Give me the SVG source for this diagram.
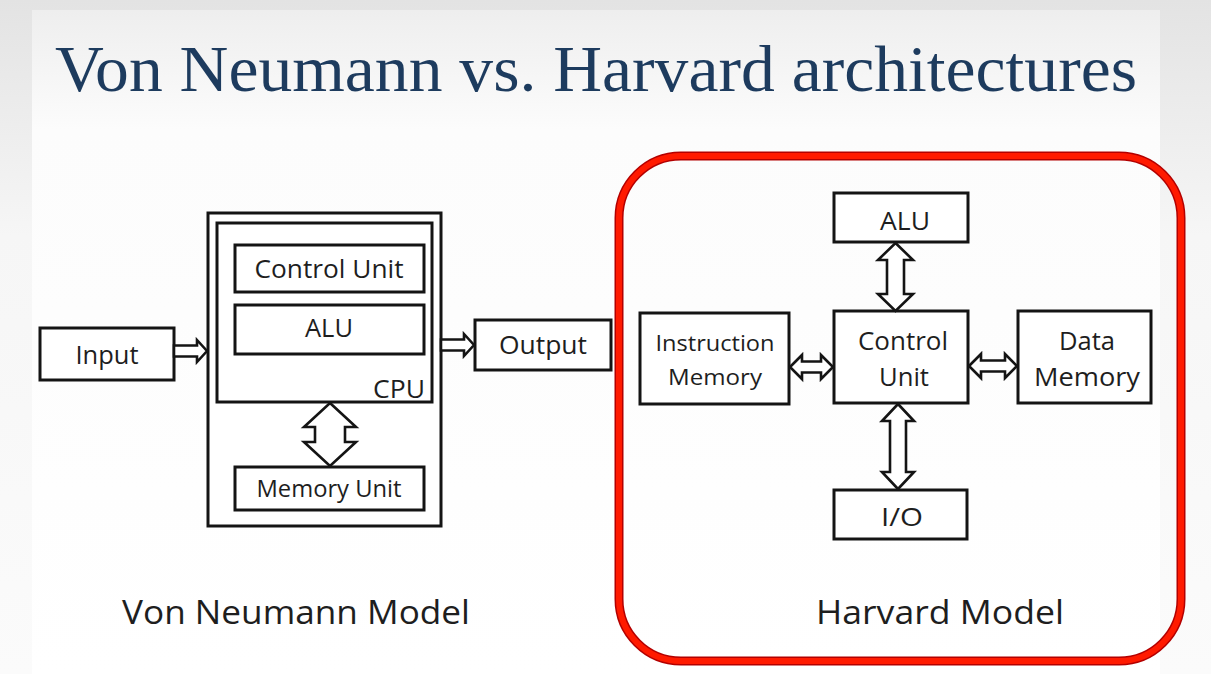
<svg xmlns="http://www.w3.org/2000/svg" width="1211" height="674" viewBox="0 0 1211 674">
  <defs>
    <linearGradient id="bgGrad" x1="0" y1="0" x2="0" y2="1">
      <stop offset="0" stop-color="#e3e3e3"/>
      <stop offset="0.35" stop-color="#f6f6f6"/>
      <stop offset="1" stop-color="#fbfbfb"/>
    </linearGradient>
    <linearGradient id="slideGrad" x1="0" y1="0" x2="0" y2="1">
      <stop offset="0" stop-color="#eeeeee"/>
      <stop offset="0.18" stop-color="#fcfcfc"/>
      <stop offset="1" stop-color="#ffffff"/>
    </linearGradient>
    <style>
      .box { fill: #ffffff; stroke: #141414; stroke-width: 3; }
      .arrow { fill: #ffffff; stroke: #141414; stroke-width: 2.6; stroke-linejoin: miter; }
      .lbl { font-family: "Open Sans", "Noto Sans", "Liberation Sans", sans-serif; fill: #1e1e1e; text-anchor: middle; }
      .caption { font-family: "Open Sans", "Noto Sans", "Liberation Sans", sans-serif; fill: #1e1e1e; font-size: 33px; text-anchor: middle; }
      .title { font-family: "Liberation Serif", "DejaVu Serif", serif; fill: #1d3b5e; font-size: 65px; }
    </style>
  </defs>

  <!-- page background and slide -->
  <rect x="0" y="0" width="1211" height="674" fill="url(#bgGrad)"/>
  <rect x="32" y="10" width="1128" height="664" fill="url(#slideGrad)"/>

  <text class="title" x="55" y="91" textLength="1082" lengthAdjust="spacingAndGlyphs">Von Neumann vs. Harvard architectures</text>

  <!-- Von Neumann model -->
  <g id="vn-input">
    <rect class="box" x="40" y="328" width="134" height="52"/>
    <text class="lbl" x="107" y="364" font-size="25" textLength="63" lengthAdjust="spacingAndGlyphs">Input</text>
  </g>
  <g id="vn-system">
    <rect class="box" x="208" y="213" width="233" height="313"/>
  </g>
  <g id="vn-cpu">
    <rect class="box" x="217" y="223" width="215" height="179"/>
    <text class="lbl" x="399" y="398" font-size="25" textLength="52" lengthAdjust="spacingAndGlyphs">CPU</text>
  </g>
  <g id="vn-control">
    <rect class="box" x="235" y="245" width="189" height="47"/>
    <text class="lbl" x="329" y="278" font-size="25" textLength="149" lengthAdjust="spacingAndGlyphs">Control Unit</text>
  </g>
  <g id="vn-alu">
    <rect class="box" x="235" y="305" width="189" height="49"/>
    <text class="lbl" x="329" y="337" font-size="25" textLength="48" lengthAdjust="spacingAndGlyphs">ALU</text>
  </g>
  <g id="vn-memory">
    <rect class="box" x="235" y="467" width="189" height="43"/>
    <text class="lbl" x="329" y="497" font-size="23" textLength="145" lengthAdjust="spacingAndGlyphs">Memory Unit</text>
  </g>
  <g id="vn-output">
    <rect class="box" x="475" y="320" width="136" height="50"/>
    <text class="lbl" x="543" y="354" font-size="25" textLength="88" lengthAdjust="spacingAndGlyphs">Output</text>
  </g>
  <text class="caption" x="296" y="624" textLength="348" lengthAdjust="spacingAndGlyphs">Von Neumann Model</text>

  <!-- Harvard model -->
  <rect x="619" y="156" width="562" height="505" rx="62" ry="62" fill="none" stroke="#b30000" stroke-width="9"/>
  <rect x="619" y="156" width="562" height="505" rx="62" ry="62" fill="none" stroke="#ff1a00" stroke-width="6"/>

  <g id="hv-alu">
    <rect class="box" x="834" y="193" width="134" height="49"/>
    <text class="lbl" x="905" y="230" font-size="25" textLength="50" lengthAdjust="spacingAndGlyphs">ALU</text>
  </g>
  <g id="hv-control">
    <rect class="box" x="834" y="311" width="134" height="92"/>
    <text class="lbl" x="903" y="350" font-size="25" textLength="90" lengthAdjust="spacingAndGlyphs">Control</text>
    <text class="lbl" x="904" y="386" font-size="25" textLength="50" lengthAdjust="spacingAndGlyphs">Unit</text>
  </g>
  <g id="hv-imem">
    <rect class="box" x="640" y="313" width="149" height="91"/>
    <text class="lbl" x="715" y="351" font-size="22" textLength="119" lengthAdjust="spacingAndGlyphs">Instruction</text>
    <text class="lbl" x="715" y="385" font-size="22" textLength="94" lengthAdjust="spacingAndGlyphs">Memory</text>
  </g>
  <g id="hv-dmem">
    <rect class="box" x="1018" y="311" width="133" height="92"/>
    <text class="lbl" x="1087" y="350" font-size="25" textLength="56" lengthAdjust="spacingAndGlyphs">Data</text>
    <text class="lbl" x="1087" y="386" font-size="25" textLength="106" lengthAdjust="spacingAndGlyphs">Memory</text>
  </g>
  <g id="hv-io">
    <rect class="box" x="834" y="490" width="133" height="49"/>
    <text class="lbl" x="902" y="526" font-size="25" textLength="42" lengthAdjust="spacingAndGlyphs">I/O</text>
  </g>
  <text class="caption" x="940" y="624" textLength="248" lengthAdjust="spacingAndGlyphs">Harvard Model</text>

  <!-- connectors: hollow block arrows -->
  <g id="connectors">
    <!-- Input to CPU -->
    <path class="arrow" d="M174,345.5 L197,345.5 L197,340 L207,351 L197,362 L197,356.5 L174,356.5 Z"/>
    <!-- CPU to Output -->
    <path class="arrow" d="M441,339.5 L464,339.5 L464,334 L474,345 L464,356 L464,350.5 L441,350.5 Z"/>
    <!-- CPU <-> Memory Unit -->
    <path class="arrow" d="M330,403 L356,427 L345,427 L345,442 L356,442 L330,466 L304,442 L315,442 L315,427 L304,427 Z"/>
    <!-- ALU <-> Control Unit -->
    <path class="arrow" d="M895.5,243 L913,260 L904,260 L904,294 L913,294 L895.5,311 L878,294 L887,294 L887,260 L878,260 Z"/>
    <!-- Control Unit <-> I/O -->
    <path class="arrow" d="M898,404 L914,421 L906,421 L906,472 L914,472 L898,489 L882,472 L890,472 L890,421 L882,421 Z"/>
    <!-- Instruction Memory <-> Control Unit -->
    <path class="arrow" d="M790,367 L802,355 L802,361.5 L821,361.5 L821,355 L833,367 L821,379 L821,372.5 L802,372.5 L802,379 Z"/>
    <!-- Control Unit <-> Data Memory -->
    <path class="arrow" d="M969,366 L981,354 L981,360.5 L1005,360.5 L1005,354 L1017,366 L1005,378 L1005,371.5 L981,371.5 L981,378 Z"/>
  </g>
</svg>
